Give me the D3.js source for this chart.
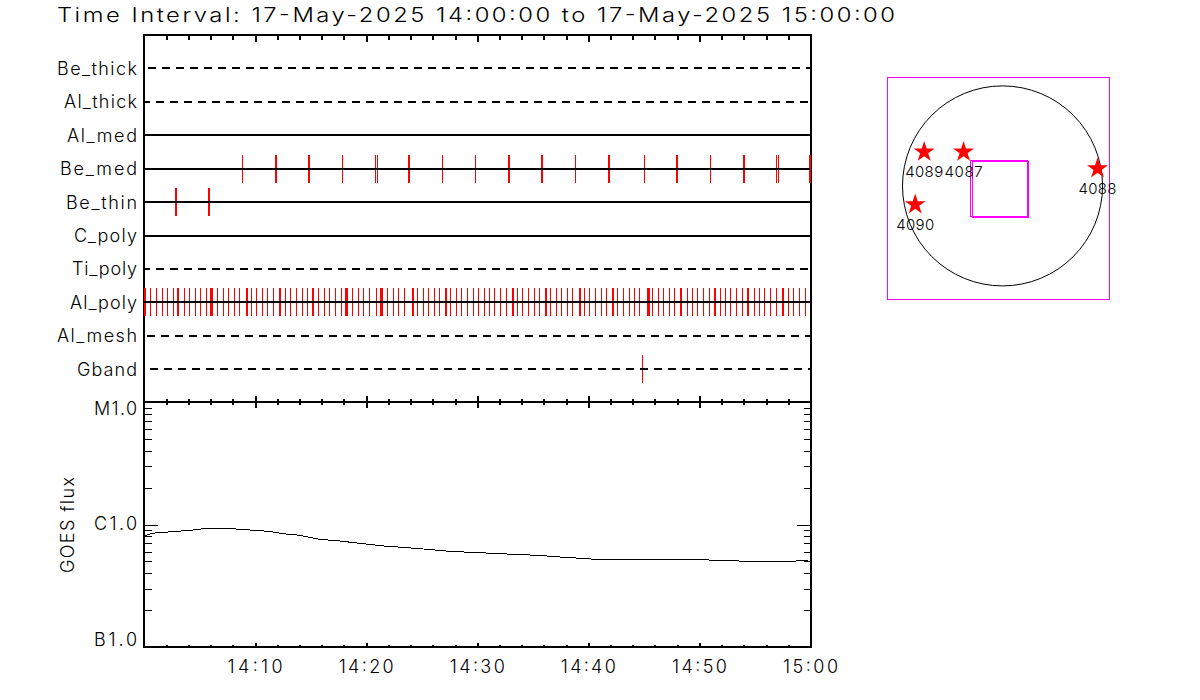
<!DOCTYPE html>
<html>
<head>
<meta charset="utf-8">
<style>
html,body{margin:0;padding:0;background:#fff;overflow:hidden}
text{font-family:"Inter","Roboto","DejaVu Sans",sans-serif;font-weight:300;fill:#000}
</style>
<script src="https://cdn.jsdelivr.net/npm/d3@7/dist/d3.min.js"></script>
</head>
<body>
<svg id="c" width="1200" height="700"></svg>
<script>
const titleText = "Time Interval: 17-May-2025 14:00:00 to 17-May-2025 15:00:00";
const channels = ["Be_thick","Al_thick","Al_med","Be_med","Be_thin","C_poly","Ti_poly","Al_poly","Al_mesh","Gband"];
const dashedChannels = ["Be_thick","Al_thick","Ti_poly","Al_mesh","Gband"];
const timeTicks = [10,20,30,40,50,60];
const timeLabels = ["14:10","14:20","14:30","14:40","14:50","15:00"];
const minorTimeTicks = [2,4,6,8,12,14,16,18,22,24,26,28,32,34,36,38,42,44,46,48,52,54,56,58];
const fluxMajor = [1e-7,1e-6,1e-5];
const fluxMajorLabels = ["B1.0","C1.0","M1.0"];
const fluxMinor = [2e-7,3e-7,4e-7,5e-7,6e-7,7e-7,8e-7,9e-7,2e-6,3e-6,4e-6,5e-6,6e-6,7e-6,8e-6,9e-6];

// event times, minutes after 14:00
const beMedEvents = [8.85,11.80,11.89,14.80,14.89,17.85,20.82,21.0,23.77,23.86,26.85,29.82,32.80,32.89,35.77,35.86,38.82,41.80,41.89,45.03,47.92,48.01,50.97,53.95,54.04,56.91,57.09,59.89,59.98];
const beThinEvents = [2.80,2.89,5.80,5.89];
const gbandEvents = [44.85];
const alPolyEvents = [0.03,0.13,0.6,1.11,1.65,2.10,2.64,3.01,3.11,3.63,4.08,4.62,5.13,5.61,5.96,6.06,6.16,6.63,7.14,7.59,8.13,8.58,9.22,9.32,9.69,10.11,10.65,11.10,11.64,12.16,12.26,12.72,13.23,13.71,14.25,14.70,15.16,15.26,15.69,16.23,16.74,17.22,17.76,18.11,18.21,18.31,18.75,19.29,19.74,20.31,20.91,21.26,21.36,21.46,21.90,22.44,22.89,23.43,24.13,24.23,24.60,25.17,25.62,26.13,26.58,27.13,27.23,27.60,28.14,28.59,29.10,29.64,30.15,30.63,31.08,31.59,32.10,32.61,33.16,33.26,33.63,34.11,34.62,35.13,35.61,36.13,36.23,36.63,37.11,37.62,38.13,38.58,39.19,39.29,39.66,40.11,40.65,41.19,41.64,42.16,42.26,42.66,43.17,43.71,44.19,44.61,45.29,45.39,45.49,45.81,46.29,46.77,47.31,47.79,48.28,48.38,48.90,49.35,49.86,50.34,50.88,51.34,51.44,51.90,52.35,52.83,53.34,53.88,54.31,54.41,54.96,55.41,55.89,56.40,56.94,57.46,57.56,58.02,58.50,58.98,59.52];

const goesTimes = [0.09,0.69,2.49,4.44,5.64,7.44,9.54,11.19,12.54,14.04,15.84,17.64,19.74,21.54,23.64,25.44,27.54,30.09,31.44,33.24,35.34,37.44,39.24,40.59,50.34,52.44,58.44,59.79];
const goesFlux = [8.10e-7,8.48e-7,8.73e-7,9.02e-7,9.31e-7,9.31e-7,9.02e-7,8.80e-7,8.41e-7,8.16e-7,7.57e-7,7.33e-7,6.97e-7,6.68e-7,6.47e-7,6.28e-7,6.04e-7,5.89e-7,5.82e-7,5.71e-7,5.61e-7,5.43e-7,5.30e-7,5.20e-7,5.16e-7,5.04e-7,5.01e-7,5.13e-7];

// solar disc map, arcsec
const regionIds = ["4089","4087","4088","4090"];
const regionX = [-752,-374,912,-838];
const regionY = [326,326,166,-179];
const fovX0 = [-303,-288];
const fovX1 = [240,250];
const fovY0 = [-298,-308];
const fovY1 = [240,230];
const sunRadius = 960;

const svg = d3.select("#c");
const edgeY = 402;
const x = d3.scaleLinear().domain([0,60]).range([144,810.5]);
const yRow = d3.scaleLinear().domain([0,11]).range([35,402.6]);
const yFlux = d3.scaleLog().domain([1e-7,1e-5]).range([647,edgeY]);
const mx = d3.scaleLinear().domain([-1104,1027]).range([887.5,1109.5]);
const my = d3.scaleLinear().domain([1041,-1091]).range([77.5,299.5]);

const labelW = {Be_thick:80,Al_thick:73,Al_med:70,Be_med:77,Be_thin:71,C_poly:63,Ti_poly:65,Al_poly:67,Al_mesh:80,Gband:60};
const dashOffset = {Be_thick:10,Al_thick:2,Ti_poly:2,Al_mesh:10.7,Gband:8};

function label(g,px,py,s,size,len,anchor){
  return g.append("text").attr("x",px).attr("y",py).attr("font-size",size)
    .attr("text-anchor",anchor||"start").attr("textLength",len).attr("lengthAdjust","spacing").text(s);
}

svg.append("text").attr("transform","translate(57,22) scale(1.22,1)").attr("font-size",19.5)
  .attr("textLength",838/1.22).attr("lengthAdjust","spacing").text(titleText);

// frames & axes
function styleAxis(g){ g.select(".domain").remove(); g.selectAll("line").attr("stroke","#000"); g.attr("shape-rendering","crispEdges"); g.selectAll("text").remove(); }

function timeAxis(yPos,gen,vals,size,w){
  const a = gen(x).tickValues(vals).tickSize(size).tickFormat("");
  const g = svg.append("g").attr("transform",`translate(0,${yPos})`).call(a).call(styleAxis);
  g.selectAll("line").attr("stroke-width",w);
}
timeAxis(35,d3.axisBottom,minorTimeTicks,5,2);
timeAxis(35,d3.axisBottom,timeTicks.slice(0,5),7,2);
timeAxis(edgeY,d3.axisBottom,minorTimeTicks,3,2);
timeAxis(edgeY,d3.axisTop,minorTimeTicks,3,2);
timeAxis(edgeY,d3.axisBottom,timeTicks,6,2);
timeAxis(edgeY,d3.axisTop,timeTicks,6,2);
timeAxis(647,d3.axisTop,minorTimeTicks,2,2);
timeAxis(647,d3.axisTop,timeTicks,4,2);

timeTicks.forEach((t,i)=>label(svg,x(t),673,timeLabels[i],18,55,"middle"));

function fluxAxis(gen,xPos,vals,size){
  const a = gen(yFlux).tickValues(vals).tickSize(size).tickFormat("");
  svg.append("g").attr("transform",`translate(${xPos},0)`).call(a).call(styleAxis).selectAll("line").attr("stroke-width",1);
}
fluxAxis(d3.axisRight,144,fluxMinor,8);
fluxAxis(d3.axisLeft,810.5,fluxMinor,7);
fluxAxis(d3.axisRight,144,[1e-6],14);
fluxAxis(d3.axisLeft,810.5,[1e-6],14);

const frame = svg.append("g").attr("shape-rendering","crispEdges").attr("stroke","#000").attr("stroke-width",2);
[35,edgeY,647].forEach(v=>frame.append("line").attr("x1",x(0)-1).attr("x2",x(60)+1).attr("y1",v).attr("y2",v));
[x(0),x(60)].forEach(v=>frame.append("line").attr("x1",v).attr("x2",v).attr("y1",34).attr("y2",648));

// events under the channel lines, over the frame
const rows = svg.append("g").attr("shape-rendering","crispEdges");
const eventsByChannel = {Be_med:beMedEvents,Be_thin:beThinEvents,Al_poly:alPolyEvents,Gband:gbandEvents};
Object.keys(eventsByChannel).forEach(c=>{
  const yy = yRow(channels.indexOf(c)+1);
  rows.selectAll(null).data(eventsByChannel[c]).join("line")
    .attr("x1",d=>x(d)).attr("x2",d=>x(d))
    .attr("y1",yy-14).attr("y2",yy+14)
    .attr("stroke","#ff0000").attr("stroke-width",1);
});
channels.forEach((c,i)=>{
  const yy = yRow(i+1);
  const dashed = dashedChannels.includes(c);
  rows.append("line").attr("x1",x(0)).attr("x2",x(60)-1).attr("y1",yy).attr("y2",yy)
    .attr("stroke","#000").attr("stroke-width",2)
    .attr("stroke-dasharray",dashed?"8,6":null)
    .attr("stroke-dashoffset",dashed?dashOffset[c]:null);
  label(svg,137,yy+6.5,c,18,labelW[c],"end");
});

fluxMajor.forEach((f,i)=>{
  const off = [-1,5.5,12.5][i];
  label(svg,137,yFlux(f)+off,fluxMajorLabels[i],18,43,"end");
});
label(svg,0,0,"GOES flux",18,96,"middle").attr("transform","translate(74,525) rotate(-90)");

// goes curve
const gd = goesTimes.map((t,i)=>[t,goesFlux[i]]);
svg.append("path").attr("d",d3.line().x(d=>x(d[0])).y(d=>yFlux(d[1]))(gd))
  .attr("fill","none").attr("stroke","#000").attr("stroke-width",1).attr("shape-rendering","crispEdges");

// solar map
const map = svg.append("g");
map.append("rect").attr("x",mx(-1104)).attr("y",my(1041)).attr("width",mx(1027)-mx(-1104)).attr("height",my(-1091)-my(1041))
  .attr("fill","none").attr("stroke","#ff00ff").attr("stroke-width",1).attr("shape-rendering","crispEdges");
map.append("circle").attr("cx",mx(0)).attr("cy",my(0)).attr("r",mx(sunRadius)-mx(0))
  .attr("fill","none").attr("stroke","#000").attr("stroke-width",1);
fovX0.forEach((v,i)=>{
  map.append("rect").attr("x",mx(v)).attr("y",my(fovY1[i])).attr("width",mx(fovX1[i])-mx(v)).attr("height",my(fovY0[i])-my(fovY1[i]))
    .attr("fill","none").attr("stroke","#ff00ff").attr("stroke-width",1).attr("shape-rendering","crispEdges");
});
regionIds.forEach((id,i)=>{
  map.append("path").attr("d",d3.symbol(d3.symbolStar,136)())
    .attr("transform",`translate(${mx(regionX[i])},${my(regionY[i])})`).attr("fill","#ff0000");
  label(map,mx(regionX[i]),my(regionY[i])+25.5,id,15,38,"middle");
});
</script>
</body>
</html>
